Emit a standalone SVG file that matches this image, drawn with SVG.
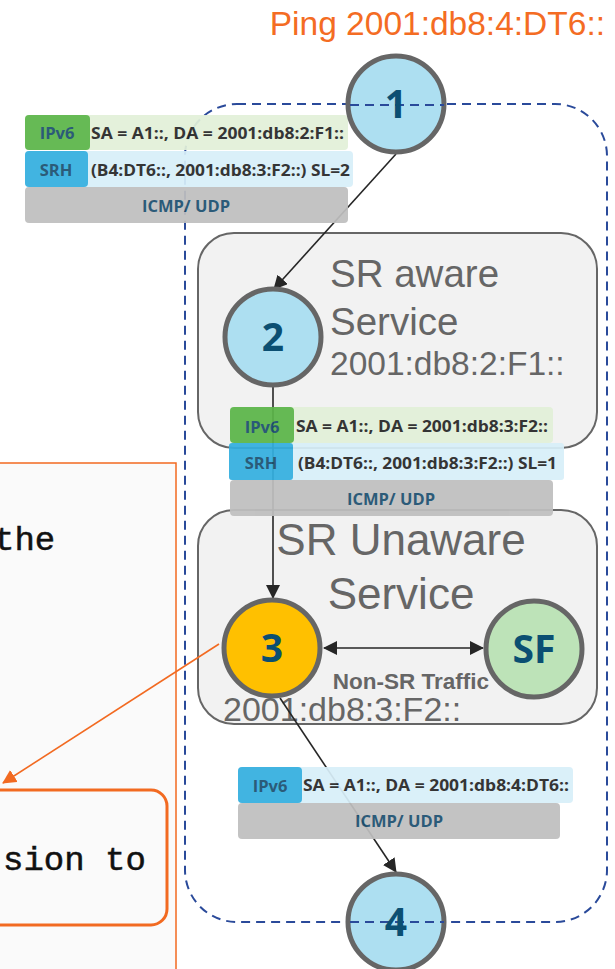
<svg xmlns="http://www.w3.org/2000/svg" width="615" height="969" viewBox="0 0 615 969">
<style>
.node{stroke:#666;stroke-width:5}
.nlab{font-family:"Open Sans","Liberation Sans",sans-serif;font-weight:bold;font-size:39px;fill:#0B4F72;text-anchor:middle}
.box{fill:#F2F2F2;stroke:#666;stroke-width:2}
.gt{font-family:"Liberation Sans",Arial,sans-serif;fill:#666}
.pk{font-family:"Open Sans","Liberation Sans",sans-serif;font-weight:bold;font-size:16px;fill:#262626}
.pl{font-family:"Open Sans","Liberation Sans",sans-serif;font-weight:bold;font-size:16.5px;fill:#1B4F6F;text-anchor:middle}
.conn{stroke:#262626;stroke-width:1.6;fill:none}
.mono{font-family:"Liberation Mono","Courier New",monospace;font-size:34px;fill:#111;stroke:#111;stroke-width:0.5}
</style>
<defs>
<marker id="ahL" markerWidth="14" markerHeight="14" refX="13" refY="7" orient="auto-start-reverse" markerUnits="userSpaceOnUse" viewBox="0 0 14 14">
<path d="M0,0 L14,7 L0,14 z" fill="#262626"/>
</marker>
<marker id="ahO" markerWidth="14" markerHeight="14" refX="13" refY="7" orient="auto" markerUnits="userSpaceOnUse" viewBox="0 0 14 14">
<path d="M0,0 L14,7 L0,14 z" fill="#F26A21"/>
</marker>
</defs>
<rect width="615" height="969" fill="#fff"/>

<g id="left-panel">
<rect x="-20" y="463" width="196" height="530" fill="#FAFAFA" stroke="#F26A21" stroke-width="1.5"/>
<text class="mono" x="-6" y="550">the</text>
<rect x="-30" y="790" width="197" height="135" rx="16" fill="none" stroke="#F26A21" stroke-width="3"/>
<text class="mono" x="3" y="870">sion to</text>
</g>

<g id="domain">
<rect x="185" y="104" width="422" height="818" rx="52" fill="none" stroke="#2A4A9A" stroke-width="2" stroke-dasharray="9,6"/>
</g>

<text id="title" x="605" y="35" text-anchor="end" font-family="Liberation Sans, Arial, sans-serif" font-size="33.5" fill="#F46C23">Ping 2001:db8:4:DT6::</text>

<g id="sr-aware">
<rect class="box" x="198" y="233" width="399" height="215" rx="36"/>
<text class="gt" x="330" y="287" font-size="38.5">SR aware</text>
<text class="gt" x="330" y="335" font-size="38.5">Service</text>
<text class="gt" x="330" y="375" font-size="33.5">2001:db8:2:F1::</text>
</g>

<g id="sr-unaware">
<rect class="box" x="198" y="510" width="399" height="214" rx="36"/>
<text class="gt" x="401" y="555" font-size="44" text-anchor="middle">SR Unaware</text>
<text class="gt" x="401" y="609" font-size="44" text-anchor="middle">Service</text>
<text class="gt" x="223" y="721" font-size="34">2001:db8:3:F2::</text>
<text class="gt" x="411" y="689" font-size="22.5" font-weight="bold" text-anchor="middle">Non-SR Traffic</text>
</g>

<g id="connectors">
<line class="conn" x1="396" y1="154" x2="274" y2="289" marker-end="url(#ahL)"/>
<line class="conn" x1="273" y1="386" x2="273" y2="598" marker-end="url(#ahL)"/>
<line class="conn" x1="280" y1="698" x2="396" y2="872" marker-end="url(#ahL)"/>
<line class="conn" x1="324" y1="648" x2="483" y2="648" marker-start="url(#ahL)" marker-end="url(#ahL)"/>
<line x1="219" y1="644" x2="3" y2="783" stroke="#F26A21" stroke-width="1.6" marker-end="url(#ahO)"/>
</g>

<g id="packet1" opacity="0.93">
<rect x="25" y="115" width="323" height="35" rx="4" fill="#E2F0D9"/>
<rect x="25" y="115" width="65" height="35" rx="4" fill="#5BB549"/>
<rect x="25" y="151" width="328" height="36" rx="4" fill="#D8EFF9"/>
<rect x="25" y="151" width="63" height="36" rx="4" fill="#33AFDF"/>
<rect x="25" y="187" width="323" height="36" rx="4" fill="#BFBFBF"/>
<text class="pl" x="57" y="139">IPv6</text>
<text class="pk" x="91" y="139" textLength="253" lengthAdjust="spacingAndGlyphs">SA = A1::, DA = 2001:db8:2:F1::</text>
<text class="pl" x="56" y="176">SRH</text>
<text class="pk" x="91" y="176" textLength="259" lengthAdjust="spacingAndGlyphs">(B4:DT6::, 2001:db8:3:F2::) SL=2</text>
<text class="pl" x="186" y="212" fill="#0D3349">ICMP/ UDP</text>
</g>

<g id="packet2" opacity="0.93">
<rect x="230" y="407" width="323" height="36" rx="4" fill="#E2F0D9"/>
<rect x="230" y="407" width="64" height="36" rx="4" fill="#5BB549"/>
<rect x="229" y="443" width="335" height="37" rx="3" fill="#D8EFF9"/>
<rect x="229" y="443" width="64" height="37" rx="3" fill="#33AFDF"/>
<rect x="230" y="480" width="323" height="36" rx="4" fill="#BFBFBF"/>
<text class="pl" x="262" y="433">IPv6</text>
<text class="pk" x="296" y="432" textLength="252" lengthAdjust="spacingAndGlyphs">SA = A1::, DA = 2001:db8:3:F2::</text>
<text class="pl" x="261" y="469">SRH</text>
<text class="pk" x="298" y="469" textLength="259" lengthAdjust="spacingAndGlyphs">(B4:DT6::, 2001:db8:3:F2::) SL=1</text>
<text class="pl" x="391" y="505" fill="#0D3349">ICMP/ UDP</text>
</g>

<g id="packet3" opacity="0.93">
<rect x="238" y="767" width="335" height="36" rx="4" fill="#D8EFF9"/>
<rect x="238" y="767" width="64" height="36" rx="4" fill="#33AFDF"/>
<rect x="238" y="803" width="322" height="36" rx="4" fill="#BFBFBF"/>
<text class="pl" x="270" y="792">IPv6</text>
<text class="pk" x="303" y="791" textLength="266" lengthAdjust="spacingAndGlyphs">SA = A1::, DA = 2001:db8:4:DT6::</text>
<text class="pl" x="399" y="827" fill="#0D3349">ICMP/ UDP</text>
</g>

<g id="node1">
<circle class="node" cx="396" cy="104" r="48" fill="#ADDFF1"/>
<line x1="350" y1="105" x2="444" y2="105" stroke="#2A4A9A" stroke-width="2" stroke-dasharray="9,6"/>
<text class="nlab" x="396" y="118">1</text>
</g>
<g id="node2">
<circle class="node" cx="273" cy="337" r="48" fill="#ADDFF1"/>
<text class="nlab" x="273" y="351">2</text>
</g>
<g id="node3">
<circle class="node" cx="272" cy="648" r="48" fill="#FFC000"/>
<text class="nlab" x="272" y="662">3</text>
</g>
<g id="nodeSF">
<circle class="node" cx="534" cy="649" r="48" fill="#BDE3B8"/>
<text class="nlab" x="534" y="663">SF</text>
</g>
<g id="node4">
<circle class="node" cx="396" cy="922" r="48" fill="#ADDFF1"/>
<line x1="350" y1="922" x2="444" y2="922" stroke="#2A4A9A" stroke-width="2" stroke-dasharray="9,6"/>
<text class="nlab" x="396" y="936">4</text>
</g>
</svg>
